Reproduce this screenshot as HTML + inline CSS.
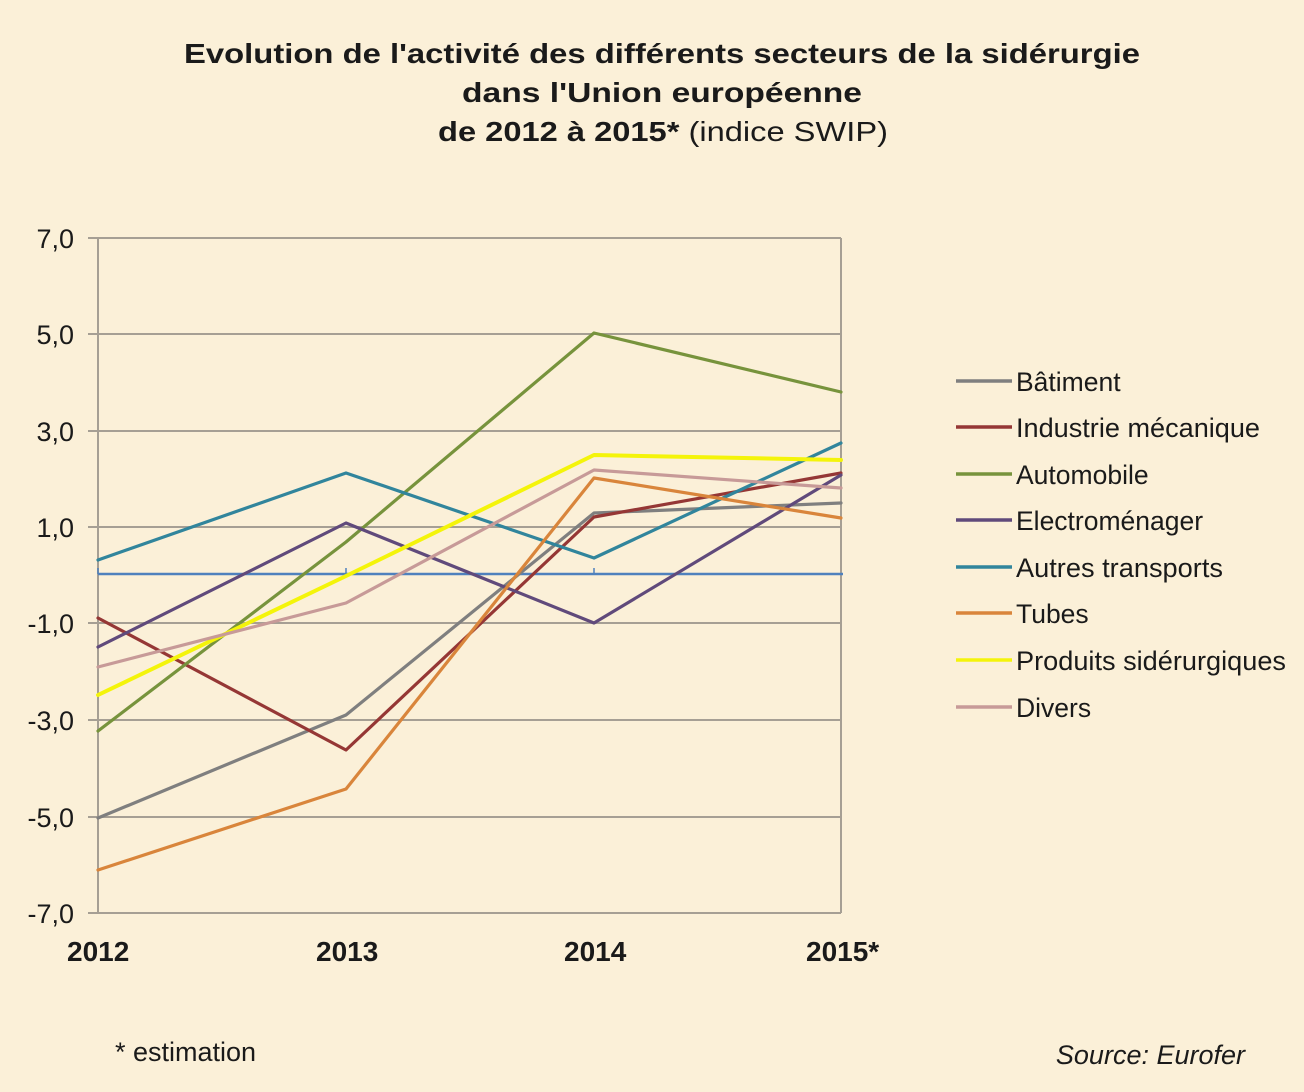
<!DOCTYPE html>
<html><head><meta charset="utf-8"><style>
html,body{margin:0;padding:0;background:#fbf0d8;}
svg{display:block;}
text{font-family:"Liberation Sans",Arial,sans-serif;fill:#1a1a1a;}
</style></head><body>
<svg width="1304" height="1092" viewBox="0 0 1304 1092" xmlns="http://www.w3.org/2000/svg">
<rect width="1304" height="1092" fill="#fbf0d8"/>
<!-- Title -->
<text x="184" y="63" font-size="28" font-weight="bold" textLength="956" lengthAdjust="spacingAndGlyphs">Evolution de l'activité des différents secteurs de la sidérurgie</text>
<text x="462" y="102" font-size="28" font-weight="bold" textLength="400" lengthAdjust="spacingAndGlyphs">dans l'Union  européenne</text>
<text x="438" y="141" font-size="28" textLength="450" lengthAdjust="spacingAndGlyphs"><tspan font-weight="bold">de 2012 à 2015* </tspan>(indice SWIP)</text>

<!-- gridlines -->
<g stroke="#a69f94" stroke-width="2">
<line x1="88" y1="238" x2="841" y2="238"/>
<line x1="88" y1="334" x2="841" y2="334"/>
<line x1="88" y1="431" x2="841" y2="431"/>
<line x1="88" y1="527" x2="841" y2="527"/>
<line x1="88" y1="623" x2="841" y2="623"/>
<line x1="88" y1="720" x2="841" y2="720"/>
<line x1="88" y1="817" x2="841" y2="817"/>
<line x1="88" y1="913" x2="841" y2="913"/>
<line x1="98" y1="238" x2="98" y2="913"/>
<line x1="841" y1="238" x2="841" y2="913"/>
</g>
<!-- zero line -->
<line x1="98" y1="574" x2="843" y2="574" stroke="#4f81bd" stroke-width="2.5"/>
<g stroke="#4f81bd" stroke-width="1.5">
<line x1="98" y1="568" x2="98" y2="574"/>
<line x1="346" y1="568" x2="346" y2="574"/>
<line x1="594" y1="568" x2="594" y2="574"/>
</g>

<!-- y labels -->
<g font-size="27" text-anchor="end">
<text x="74" y="248">7,0</text>
<text x="74" y="344">5,0</text>
<text x="74" y="441">3,0</text>
<text x="74" y="537">1,0</text>
<text x="74" y="633">-1,0</text>
<text x="74" y="730">-3,0</text>
<text x="74" y="827">-5,0</text>
<text x="74" y="923">-7,0</text>
</g>

<!-- x labels -->
<g font-size="28" font-weight="bold">
<text x="67" y="961">2012</text>
<text x="316" y="961">2013</text>
<text x="564" y="961">2014</text>
<text x="806" y="961">2015*</text>
</g>

<!-- series -->
<g fill="none" stroke-width="3.2" stroke-linejoin="round" stroke-linecap="round">
<polyline stroke="#7f7f7f" points="98,818 346,715 594,513 841,503"/>
<polyline stroke="#953735" points="98,618 346,750 594,517 841,473"/>
<polyline stroke="#77933c" points="98,731 346,542 594,333 841,392"/>
<polyline stroke="#604a7b" points="98,647 346,523 594,623 841,475"/>
<polyline stroke="#31859c" points="98,560 346,473 594,558 841,443"/>
<polyline stroke="#d9853b" points="98,870 346,789 594,478 841,518"/>
<polyline stroke="#f4f40a" stroke-width="4" points="98,695 346,576 594,455 841,460"/>
<polyline stroke="#c79a98" points="98,667 346,603 594,470 841,488"/>
</g>

<!-- legend -->
<g stroke-width="3.5">
<line x1="956" y1="381" x2="1012" y2="381" stroke="#7f7f7f"/>
<line x1="956" y1="427" x2="1012" y2="427" stroke="#953735"/>
<line x1="956" y1="474" x2="1012" y2="474" stroke="#77933c"/>
<line x1="956" y1="520" x2="1012" y2="520" stroke="#604a7b"/>
<line x1="956" y1="567" x2="1012" y2="567" stroke="#31859c"/>
<line x1="956" y1="613" x2="1012" y2="613" stroke="#d9853b"/>
<line x1="956" y1="660" x2="1012" y2="660" stroke="#f4f40a"/>
<line x1="956" y1="707" x2="1012" y2="707" stroke="#c79a98"/>
</g>
<g font-size="26.5">
<text x="1016" y="391">Bâtiment</text>
<text x="1016" y="437" textLength="244" lengthAdjust="spacingAndGlyphs">Industrie mécanique</text>
<text x="1016" y="484">Automobile</text>
<text x="1016" y="530">Electroménager</text>
<text x="1016" y="577" textLength="207" lengthAdjust="spacingAndGlyphs">Autres transports</text>
<text x="1016" y="623">Tubes</text>
<text x="1016" y="670" textLength="270" lengthAdjust="spacingAndGlyphs">Produits sidérurgiques</text>
<text x="1016" y="717">Divers</text>
</g>

<!-- footer -->
<text x="115" y="1061" font-size="27">* estimation</text>
<text x="1245" y="1064" font-size="27" font-style="italic" text-anchor="end">Source: Eurofer</text>
</svg>
</body></html>
